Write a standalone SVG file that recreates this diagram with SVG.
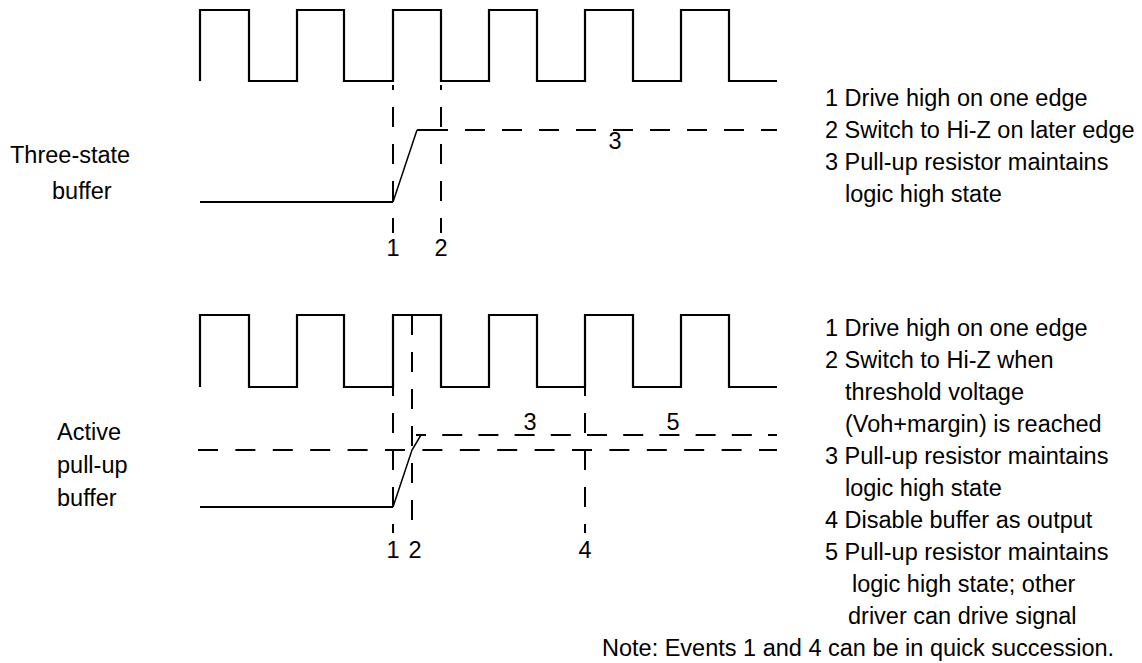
<svg xmlns="http://www.w3.org/2000/svg" width="1142" height="663" viewBox="0 0 1142 663">
<style>
text { font-family: "Liberation Sans", Arial, sans-serif; font-size: 23.5px; fill: #000; }
.mid { text-anchor: middle; }
.clk { fill: none; stroke: #000; stroke-width: 2.2; stroke-linejoin: miter; }
.sig { fill: none; stroke: #000; stroke-width: 2; }
.ramp { fill: none; stroke: #000; stroke-width: 1.5; }
.dash { fill: none; stroke: #000; stroke-width: 2; stroke-dasharray: 20 17; }
</style>
<rect width="1142" height="663" fill="#fff"/>
<g id="three-state-label">
<text x="10" y="163">Three-state</text>
<text x="52" y="199">buffer</text>
</g>
<g id="active-label">
<text x="57" y="440">Active</text>
<text x="57" y="473">pull-up</text>
<text x="57" y="506">buffer</text>
</g>
<g id="top-clock">
<path class="clk" d="M200,81 V10 H249 V81 H297 V10 H344 V81 H393 V10 H441 V81 H489 V10 H537 V81 H585 V10 H633 V81 H681 V10 H729 V81 H777"/>
</g>
<g id="bottom-clock">
<path class="clk" d="M200,387 V315 H249 V387 H297 V315 H344 V387 H393 V315 H441 V387 H489 V315 H537 V387 H585 V315 H633 V387 H681 V315 H729 V387 H777"/>
</g>
<g id="top-signal">
<path class="sig" d="M200,202 H393"/>
<path class="ramp" d="M393,202 L417,130"/>
<path class="sig" d="M417,130 H430"/>
<path class="dash" d="M428,130 H777"/>
</g>
<g id="bottom-signal">
<path class="sig" d="M200,507 H393"/>
<path class="ramp" d="M393,507 L412,450 L421,435"/>
<path class="dash" d="M198,450 H777" style="stroke-dasharray:20 17.4"/>
<path class="dash" d="M416,435 H777" style="stroke-dasharray:20 16.2;stroke-dashoffset:10"/>
</g>
<g id="connectors">
<path class="dash" d="M393,85 V233" style="stroke-dashoffset:15"/>
<path class="dash" d="M441,85 V233" style="stroke-dashoffset:15"/>
<path class="dash" d="M393,388 V533" style="stroke-dashoffset:12"/>
<path class="dash" d="M412,315 V533"/>
<path class="dash" d="M585,388 V533" style="stroke-dashoffset:12"/>
</g>
<g id="event-labels">
<text class="mid" x="393" y="256">1</text>
<text class="mid" x="441" y="256">2</text>
<text class="mid" x="615" y="149">3</text>
<text class="mid" x="393" y="558">1</text>
<text class="mid" x="415" y="558">2</text>
<text class="mid" x="585" y="558">4</text>
<text class="mid" x="530" y="430">3</text>
<text class="mid" x="673" y="430">5</text>
</g>
<g id="top-notes">
<text x="825" y="106">1 Drive high on one edge</text>
<text x="825" y="138">2 Switch to Hi-Z on later edge</text>
<text x="825" y="170">3 Pull-up resistor maintains</text>
<text x="845" y="202">logic high state</text>
</g>
<g id="bottom-notes">
<text x="825" y="336">1 Drive high on one edge</text>
<text x="825" y="368">2 Switch to Hi-Z when</text>
<text x="845" y="400">threshold voltage</text>
<text x="845" y="432">(Voh+margin) is reached</text>
<text x="825" y="464">3 Pull-up resistor maintains</text>
<text x="845" y="496">logic high state</text>
<text x="825" y="528">4 Disable buffer as output</text>
<text x="825" y="560">5 Pull-up resistor maintains</text>
<text x="852" y="592">logic high state; other</text>
<text x="848" y="624">driver can drive signal</text>
<text x="602" y="656">Note: Events 1 and 4 can be in quick succession.</text>
</g>
</svg>
